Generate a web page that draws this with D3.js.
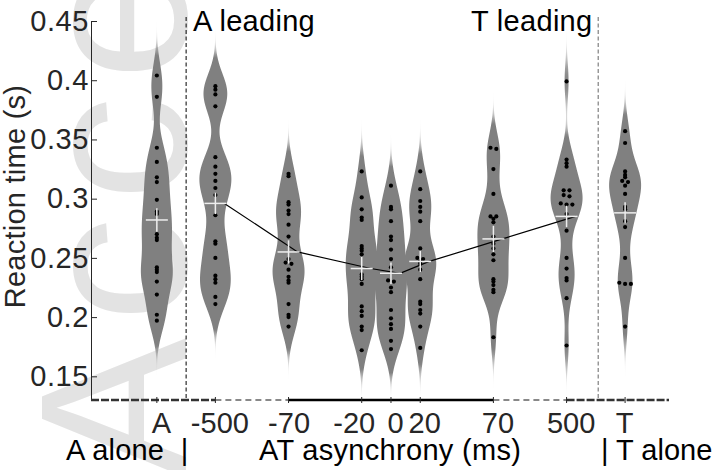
<!DOCTYPE html>
<html>
<head>
<meta charset="utf-8">
<script src="https://cdn.jsdelivr.net/npm/d3@7"></script>
<style>
  body { margin: 0; background: #fff; }
  svg { display: block; font-family: "Liberation Sans", Arial, sans-serif; }
  text { white-space: pre; }
</style>
</head>
<body>
<div class="chartHolder"></div>
<script>
// conditions on the x axis (A alone, AT asynchrony in ms, T alone)
var categories = ["A", "-500", "-70", "-20", "0", "20", "70", "500", "T"];

// reaction times (s), one dot per participant
var rtA = [0.404, 0.386, 0.343, 0.331, 0.318, 0.314, 0.299, 0.289, 0.287, 0.270, 0.267, 0.265, 0.242, 0.240, 0.238, 0.230, 0.219, 0.202, 0.197];
var rtM500 = [0.395, 0.392, 0.388, 0.378, 0.335, 0.327, 0.321, 0.315, 0.309, 0.303, 0.286, 0.264, 0.262, 0.250, 0.235, 0.232, 0.229, 0.217, 0.211];
var rtM70 = [0.319, 0.321, 0.297, 0.295, 0.290, 0.287, 0.278, 0.268, 0.249, 0.246, 0.245, 0.240, 0.234, 0.231, 0.229, 0.211, 0.202, 0.200, 0.192];
var rtM20 = [0.323, 0.301, 0.291, 0.284, 0.282, 0.260, 0.258, 0.256, 0.253, 0.236, 0.234, 0.232, 0.228, 0.209, 0.205, 0.201, 0.192, 0.189, 0.172];
var rt0 = [0.311, 0.293, 0.291, 0.281, 0.268, 0.265, 0.257, 0.249, 0.242, 0.231, 0.230, 0.225, 0.221, 0.206, 0.199, 0.194, 0.190, 0.180, 0.173];
var rtP20 = [0.323, 0.308, 0.298, 0.293, 0.289, 0.281, 0.258, 0.250, 0.249, 0.247, 0.245, 0.240, 0.232, 0.213, 0.211, 0.206, 0.203, 0.192, 0.174];
var rtP70 = [0.343, 0.342, 0.325, 0.304, 0.285, 0.285, 0.283, 0.280, 0.268, 0.262, 0.258, 0.253, 0.248, 0.232, 0.230, 0.227, 0.223, 0.221, 0.183];
var rtP500 = [0.399, 0.333, 0.330, 0.327, 0.307, 0.307, 0.302, 0.303, 0.295, 0.296, 0.295, 0.287, 0.273, 0.250, 0.241, 0.233, 0.231, 0.216, 0.176];
var rtT = [0.357, 0.347, 0.323, 0.320, 0.318, 0.315, 0.314, 0.311, 0.304, 0.293, 0.291, 0.281, 0.276, 0.250, 0.229, 0.228, 0.228, 0.192];

// mean and standard error per condition (white crosses)
var means = [0.282, 0.296, 0.255, 0.241, 0.237, 0.247, 0.266, 0.285, 0.288];
var sems = [0.010, 0.009, 0.0098, 0.0098, 0.009, 0.009, 0.011, 0.009, 0.009];

var yTicks = [0.15, 0.2, 0.25, 0.3, 0.35, 0.4, 0.45];

var groups = [rtA, rtM500, rtM70, rtM20, rt0, rtP20, rtP70, rtP500, rtT];

var svgW = 716, svgH = 470;
var margin = { top: 21, right: 47, bottom: 70, left: 91 },
    w = svgW - margin.left - margin.right,
    h = svgH - margin.top - margin.bottom;

var fontSize = 29;
var halfW = 16;       // widest half-width of a violin
var bandwidth = 0.0155;
var lineShift = 9;    // the mean line sits a little right of the crosses

var svg = d3.select(".chartHolder").append("svg").attr("width", svgW).attr("height", svgH);

// faint watermark behind everything
svg.append("text")
  .attr("transform", "translate(186,478) rotate(-90)")
  .attr("font-size", 210)
  .attr("letter-spacing", 16)
  .attr("fill", "#e3e3e3")
  .text("Accepted Article");

var g = svg.append("g").attr("transform", "translate(" + margin.left + "," + margin.top + ")");

function key(c) {
  if (c === "A") return -1000;
  if (c === "T") return 1000;
  return +c;
}

// broken axis: the -70..70 part is linear, the outer conditions are spaced out
var u = w / 7.9;
var xScale = d3.scaleLinear()
  .domain([-1000, -500, -70, 70, 500, 1000])
  .range([0.9, 1.7, 2.7, 5.5, 6.5, 7.3].map(function (k) { return k * u; }));

var yScale = d3.scaleLinear().domain([0.13, 0.45]).range([h, 0]);

// separators between single-modality and asynchrony conditions
g.append("line").attr("x1", xScale(-750)).attr("x2", xScale(-750)).attr("y1", -4).attr("y2", h)
  .attr("stroke", "#000").attr("stroke-dasharray", "4,2.5");
g.append("line").attr("x1", xScale(770)).attr("x2", xScale(770)).attr("y1", -4).attr("y2", h)
  .attr("stroke", "#666").attr("stroke-dasharray", "4,2.5");

// y axis
var yAxis = d3.axisLeft(yScale).tickValues(yTicks).tickFormat(function (d) { return String(d); })
  .tickSizeInner(-6).tickSizeOuter(0).tickPadding(2);
var ya = g.append("g").call(yAxis);
ya.selectAll("path, line").attr("stroke", "#262626");
ya.selectAll("text").attr("font-size", fontSize).attr("font-family", null)
  .attr("letter-spacing", 0.6).attr("fill", "#262626");

// x axis drawn in pieces
var xa = g.append("g").attr("transform", "translate(0," + h + ")");
var segs = [
  { a: 0, b: xScale(-500), color: "#333", width: 2.5, dash: "8,2" },
  { a: xScale(-500), b: xScale(-70), color: "#888", width: 1.8, dash: "6,4" },
  { a: xScale(-70), b: xScale(70), color: "#000", width: 2.6, dash: null },
  { a: xScale(70), b: xScale(500), color: "#888", width: 1.8, dash: "6,4" },
  { a: xScale(500), b: w, color: "#333", width: 2.5, dash: "8,2" }
];
xa.selectAll("line.seg").data(segs).enter().append("line").attr("class", "seg")
  .attr("x1", function (d) { return d.a; }).attr("x2", function (d) { return d.b; })
  .attr("stroke", function (d) { return d.color; })
  .attr("stroke-width", function (d) { return d.width; })
  .attr("stroke-dasharray", function (d) { return d.dash; });
xa.selectAll("line.tick").data(categories).enter().append("line").attr("class", "tick")
  .attr("x1", function (d) { return xScale(key(d)); }).attr("x2", function (d) { return xScale(key(d)); })
  .attr("y1", -3).attr("y2", 3).attr("stroke", "#262626");

var xAxis = d3.axisBottom(xScale).tickValues(categories.map(key))
  .tickFormat(function (d, i) { return categories[i]; }).tickSize(0).tickPadding(12);
var xl = g.append("g").attr("transform", "translate(0," + h + ")").call(xAxis);
xl.select(".domain").remove();
// labels sit slightly right of their ticks; -20 is pushed left to clear 0
xl.selectAll("text").attr("font-size", fontSize).attr("font-family", null).attr("fill", "#262626")
  .attr("dx", function (d) { return d === -20 ? -8 : d === -70 ? 0 : d === 1000 ? -1 : 4; });

// violins
var defs = svg.append("defs");

function kde(vals, v) {
  var s = 0;
  vals.forEach(function (p) {
    var z = (v - p) / bandwidth;
    s += Math.exp(-0.5 * z * z);
  });
  return s;
}

groups.forEach(function (vals, i) {
  var cx = xScale(key(categories[i]));
  var lo = d3.min(vals) - 0.07, hi = d3.max(vals) + 0.07;
  var pts = d3.range(lo, hi, 0.0005).map(function (v) { return { v: v, f: kde(vals, v) }; });
  var fmax = d3.max(pts, function (d) { return d.f; });
  pts.forEach(function (d) { d.r = d.f / fmax; });

  // gradient runs from the top tail (offset 0) down to the bottom tail (offset 1)
  var grad = defs.append("linearGradient").attr("id", "vg" + i)
    .attr("gradientUnits", "userSpaceOnUse")
    .attr("x1", 0).attr("x2", 0).attr("y1", yScale(hi)).attr("y2", yScale(lo));
  pts.filter(function (d, k) { return k % 4 === 0; }).reverse().forEach(function (d) {
    grad.append("stop")
      .attr("offset", (hi - d.v) / (hi - lo))
      .attr("stop-color", "#808080")
      .attr("stop-opacity", Math.min(1, Math.pow(d.r / 0.13, 0.9)));
  });

  var area = d3.area()
    .y(function (d) { return yScale(d.v); })
    .x0(function (d) { return cx - d.r * halfW; })
    .x1(function (d) { return cx + d.r * halfW; });

  g.append("path").datum(pts).attr("d", area).attr("fill", "url(#vg" + i + ")");
});

// mean line across the asynchrony conditions
var lineData = d3.range(1, 8);
var line = d3.line()
  .x(function (i) { return xScale(key(categories[i])) + lineShift; })
  .y(function (i) { return yScale(means[i]); });
g.append("path").datum(lineData).attr("d", line).attr("fill", "none").attr("stroke", "#000").attr("stroke-width", 1.2);

// dots, spread sideways where they would sit on top of each other
groups.forEach(function (vals, i) {
  var cx = xScale(key(categories[i]));
  var sorted = vals.slice().sort(d3.descending);
  var clusters = [];
  sorted.forEach(function (v) {
    var last = clusters[clusters.length - 1];
    if (last && Math.abs(yScale(v) - yScale(last[0])) < 2.2) last.push(v);
    else clusters.push([v]);
  });
  clusters.forEach(function (c) {
    c.forEach(function (v, k) {
      g.append("circle")
        .attr("cx", cx + (k - (c.length - 1) / 2) * 5.8)
        .attr("cy", yScale(v))
        .attr("r", 2.1)
        .attr("fill", "#000");
    });
  });
});

// mean +/- sem crosses
categories.forEach(function (c, i) {
  var cx = xScale(key(c)), cy = yScale(means[i]);
  g.append("line").attr("x1", cx - 11).attr("x2", cx + 11).attr("y1", cy).attr("y2", cy)
    .attr("stroke", "#eee").attr("stroke-width", 1.5);
  g.append("line").attr("x1", cx).attr("x2", cx)
    .attr("y1", yScale(means[i] + sems[i])).attr("y2", yScale(means[i] - sems[i]))
    .attr("stroke", "#eee").attr("stroke-width", 1.5);
});

// labels
function label(x, y, s, sp) {
  return svg.append("text").attr("x", x).attr("y", y)
    .attr("font-size", fontSize).attr("letter-spacing", sp).text(s);
}
label(193, 31, "A leading", 0.3);
label(471, 31, "T leading", 0.3);
label(66, 460, "A alone  |", 0.2);
label(259, 460, "AT asynchrony (ms)", 0.3);
label(601, 460, "| T alone", 0);

svg.append("text")
  .attr("transform", "translate(25," + (margin.top + h / 2 - 14) + ") rotate(-90)")
  .attr("text-anchor", "middle")
  .attr("font-size", fontSize)
  .attr("letter-spacing", 0.25)
  .attr("fill", "#262626")
  .text("Reaction time (s)");
</script>
</body>
</html>
